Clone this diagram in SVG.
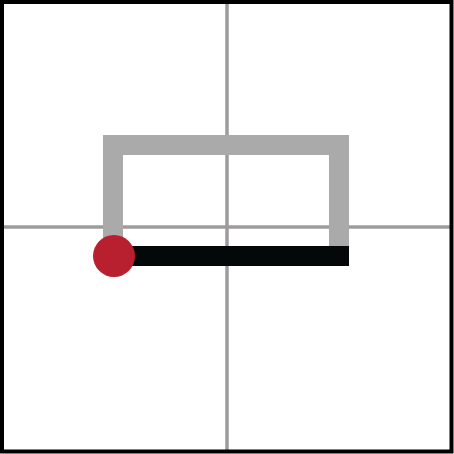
<svg xmlns="http://www.w3.org/2000/svg" width="454" height="454" viewBox="0 0 454 454">
<style>
.axis{stroke:#9e9b9d;stroke-width:3.5;fill:none}
</style>
<rect x="0" y="0" width="454" height="454" fill="#ffffff"/>
<g id="axes">
<line class="axis" x1="3" y1="227" x2="451" y2="227"/>
<line class="axis" x1="227" y1="3" x2="227" y2="451"/>
</g>
<g id="connectors">
<path d="M113,266 V145 H339 V266" fill="none" stroke="#aaaaaa" stroke-width="20" stroke-linejoin="miter"/>
<path d="M114,256 H349" fill="none" stroke="#040809" stroke-width="20"/>
</g>
<g id="point">
<circle cx="114" cy="256" r="21" fill="#b81f2f"/>
</g>
<rect x="2" y="2" width="449.5" height="449.5" fill="none" stroke="#000000" stroke-width="4"/>
</svg>
